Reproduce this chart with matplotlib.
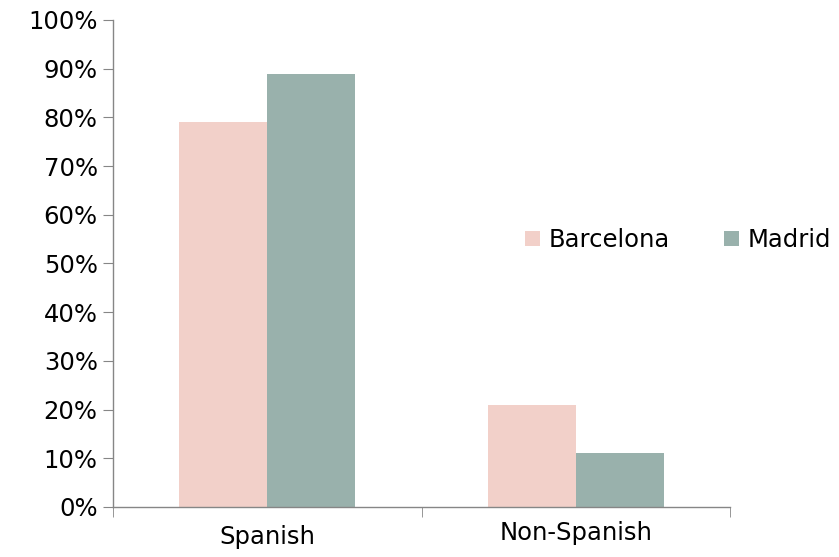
import matplotlib.pyplot as plt
import numpy as np
from matplotlib.ticker import FixedLocator, PercentFormatter

categories = ["Spanish", "Non-Spanish"]
cities = ["Barcelona", "Madrid"]
barcelona = [79, 21]
madrid = [89, 11]

colors = {"Barcelona": "#F2D0C9", "Madrid": "#99B1AC"}
axis_grey = "#868686"
fs = 17.5

fig = plt.figure(figsize=(8.39, 5.57), dpi=100)
ax = fig.add_axes([0.1347, 0.0898, 0.7354, 0.8743])

x = np.arange(len(categories))
width = 0.285
ax.bar(x - width / 2, barcelona, width, color=colors["Barcelona"], label="Barcelona")
ax.bar(x + width / 2, madrid, width, color=colors["Madrid"], label="Madrid")

ax.set_xlim(-0.5, len(categories) - 0.5)
ax.set_ylim(0, 100)
ax.set_yticks(np.arange(0, 101, 10))
ax.yaxis.set_major_formatter(PercentFormatter(decimals=0))

ax.set_xticks(x)
ax.set_xticklabels(categories)
ax.xaxis.set_minor_locator(FixedLocator(np.arange(-0.5, len(categories), 1.0)))

for side in ("top", "right"):
    ax.spines[side].set_visible(False)
for side in ("left", "bottom"):
    ax.spines[side].set_color(axis_grey)
    ax.spines[side].set_linewidth(1.0)

ax.tick_params(axis="y", length=7, color=axis_grey, labelsize=fs, pad=4)
ax.tick_params(axis="x", which="major", length=0, labelsize=fs, pad=13)
ax.tick_params(axis="x", which="minor", length=7, color=axis_grey)

# the second category label sits a bit closer to the axis
ax.xaxis.get_major_ticks()[1].set_pad(10)

ax.legend(loc="center left", bbox_to_anchor=(0.626, 0.569), bbox_transform=fig.transFigure,
          ncol=2, frameon=False, fontsize=fs, handlelength=0.6, handleheight=0.6,
          handletextpad=0.35, columnspacing=2.25, borderpad=0, borderaxespad=0)

fig.savefig("out.png", dpi=100)
